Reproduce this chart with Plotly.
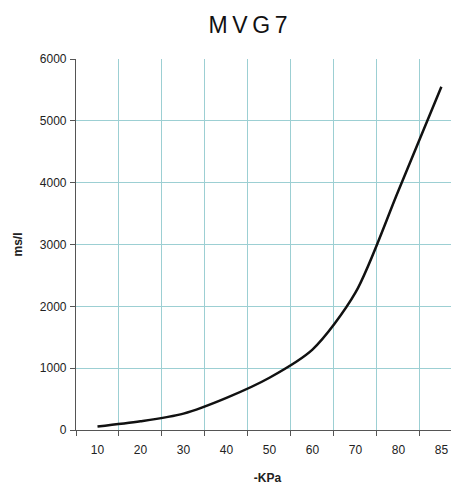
import plotly.graph_objects as go

categories = ["10", "20", "30", "40", "50", "60", "70", "80", "85"]
values = [55, 140, 265, 520, 845, 1300, 2220, 3870, 5550]
y_ticks = [0, 1000, 2000, 3000, 4000, 5000, 6000]

fig = go.Figure()
fig.add_trace(go.Scatter(
    x=categories, y=values, mode="lines",
    line=dict(color="#111111", width=2.5, shape="spline", smoothing=0.8),
    showlegend=False, hoverinfo="skip",
))

grid_c = "#9ccfd3"
fig.update_layout(
    width=451, height=478,
    margin=dict(l=68, r=0, t=51, b=56),
    paper_bgcolor="white", plot_bgcolor="white",
    font=dict(family="Liberation Sans, Arial, sans-serif", size=12, color="#222222"),
    title=dict(text="M\u2009V\u2009G\u20097", x=0.532, xanchor="center", y=0.964, yanchor="middle",
               font=dict(family="Liberation Sans, Arial, sans-serif", size=23, color="#111111")),
)
fig.update_xaxes(
    type="category", categoryorder="array", categoryarray=categories,
    range=[-0.5, 8.41], tickson="boundaries",
    showgrid=True, gridcolor=grid_c, gridwidth=1,
    showline=True, linecolor="#555555", linewidth=1.2,
    ticks="outside", ticklen=5, tickcolor="#555555",
    tickfont=dict(size=12, color="#222222"),
    ticklabelstandoff=8,
    title=dict(text="<b>-KPa</b>", font=dict(size=12, color="#222222"), standoff=18),
    zeroline=False,
)
fig.update_yaxes(
    range=[0, 6000], tickvals=y_ticks,
    showgrid=True, gridcolor=grid_c, gridwidth=1,
    showline=True, linecolor="#555555", linewidth=1.2,
    ticks="outside", ticklen=5, tickcolor="#555555",
    tickfont=dict(size=12, color="#222222"),
    ticklabelstandoff=1,
    title=dict(text="<b>ms/l</b>", font=dict(size=12, color="#222222"), standoff=14),
    zeroline=False,
)

fig.write_html("out.html")
